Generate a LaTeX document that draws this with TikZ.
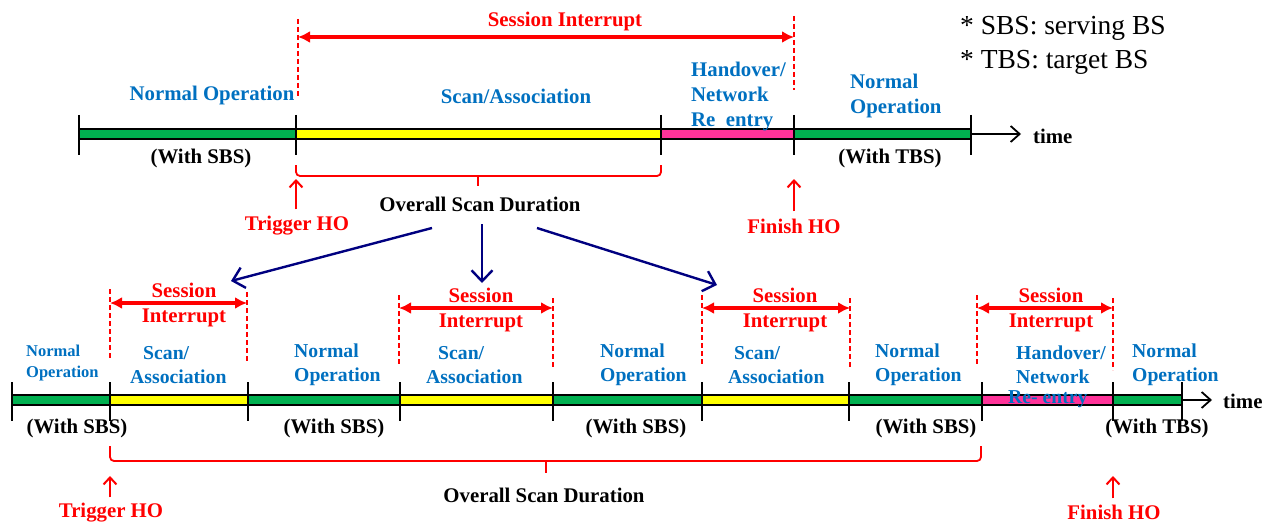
\documentclass[tikz,border=0pt]{standalone}
\usepackage{fontspec}
\setmainfont{Liberation Serif}
\usetikzlibrary{arrows.meta}
\definecolor{cblue}{RGB}{0,112,192}
\definecolor{cred}{RGB}{255,0,0}
\definecolor{cgreen}{RGB}{0,176,80}
\definecolor{cyellow}{RGB}{255,255,0}
\definecolor{cpink}{RGB}{255,51,153}
\definecolor{cnavy}{RGB}{0,0,128}
\newcommand\fTop{\bfseries\fontsize{20.8}{25}\selectfont}
\newcommand\fBot{\bfseries\fontsize{19.7}{24}\selectfont}
\newcommand\fSmall{\bfseries\fontsize{16.5}{21}\selectfont}
\newcommand\fLeg{\fontsize{27.5}{32}\selectfont}
\tikzset{
  barout/.style={line width=12pt, black},
  seg/.style={line width=7.5pt, #1},
  tickmark/.style={line width=1.8pt, black},
  timearrow/.style={line width=1.8pt, black, -{Straight Barb[length=9pt,width=16pt,line width=1.8pt]}},
  phase/.style={text=cblue, inner sep=0pt},
  lbl/.style={inner sep=0pt, font=\fTop},
  redlbl/.style={inner sep=0pt, font=\fTop, text=cred},
  dashv/.style={cred, line width=1.6pt, dash pattern=on 5pt off 3pt},
  sess/.style={cred, line width=3.2pt, {Latex[length=12pt,width=12pt]}-{Latex[length=12pt,width=12pt]}},
  bracepath/.style={cred, line width=1.8pt, rounded corners=4pt},
  trig/.style={cred, line width=2pt, -{Straight Barb[length=7pt,width=13pt,line width=2pt]}},
  fan/.style={cnavy, line width=2.4pt, -{Straight Barb[length=11pt,width=21pt,line width=2.4pt]}}
}
\begin{document}
\begin{tikzpicture}[x=1pt,y=-1pt]
\useasboundingbox (0,0) rectangle (1277,524);
% ---------------- legend ----------------
\node[inner sep=0pt, anchor=west, font=\fLeg] (leg1) at (960,28) {* SBS: serving BS};
\node[inner sep=0pt, anchor=west, font=\fLeg] (leg2) at (960,62) {* TBS: target BS};
% ---------------- top timeline ----------------
\coordinate (t0) at (79,134);
\coordinate (t1) at (296,134);
\coordinate (t2) at (661,134);
\coordinate (t3) at (794,134);
\coordinate (t4) at (971,134);
\coordinate (tend) at (1021,134);
\draw[barout] (t0) -- (t4);
\draw[seg=cgreen] (t0) -- (t1);
\draw[seg=cyellow] (t1) -- (t2);
\draw[seg=cpink] (t2) -- (t3);
\draw[seg=cgreen] (t3) -- (t4);
\foreach \c in {t0,t1,t2,t3,t4} \draw[tickmark] ([yshift=19pt]\c) -- ([yshift=-21pt]\c);
\draw[timearrow] (t4) -- (tend);
\node[lbl, anchor=west] (time1) at (1033,136) {time};
% labels
\node[phase, font=\fTop] (tn1) at (212,95) {Normal Operation};
\node[phase, font=\fTop] (ts1) at (516,96) {Scan/Association};
\node[phase, font=\fTop, align=left, anchor=west] (th1) at (691,97) {Handover/\\Network\\Re\ \ entry};
\node[phase, font=\fTop, align=left, anchor=west] (tn2) at (850,96) {Normal\\Operation};
\node[lbl] (tw1) at (201,158) {(With SBS)};
\node[lbl] (tw2) at (890,158) {(With TBS)};
% session interrupt
\coordinate (dA1) at (298,19);
\coordinate (dA2) at (298,96);
\coordinate (dB1) at (794,16);
\coordinate (dB2) at (794,90);
\draw[dashv] (dA1) -- (dA2);
\draw[dashv] (dB1) -- (dB2);
\coordinate (sA) at (298,37);
\coordinate (sB) at (794,37);
\draw[sess] (sA) -- (sB);
\node[redlbl] (tsi) at (565,22) {Session Interrupt};
% brace
\coordinate (br1) at (296,165);
\coordinate (br2) at (661,165);
\coordinate (brc) at (478,176);
\coordinate (brd) at (478,186);
\draw[bracepath] (br1) |- (brc) -| (br2);
\draw[bracepath] (brc) -- (brd);
\node[lbl] (tosd) at (480,204) {Overall Scan Duration};
% trigger / finish
\node[redlbl] (ttr) at (297,226) {Trigger HO};
\node[redlbl] (tfi) at (794,226) {Finish HO};
\draw[trig] ([yshift=7pt]ttr.north -| t1) -- ([yshift=-45pt]t1);
\draw[trig] ([yshift=7pt]tfi.north -| t3) -- ([yshift=-45pt]t3);
% ---------------- fan arrows ----------------
\coordinate (f1s) at (432,228);
\coordinate (f1e) at (231,281);
\coordinate (f2s) at (482,224);
\coordinate (f2e) at (482,283);
\coordinate (f3s) at (537,228);
\coordinate (f3e) at (717,285);
\draw[fan] (f1s) -- (f1e);
\draw[fan] (f2s) -- (f2e);
\draw[fan] (f3s) -- (f3e);
% ---------------- bottom timeline ----------------
\coordinate (b0) at (12,400);
\coordinate (b1) at (110,400);
\coordinate (b2) at (248,400);
\coordinate (b3) at (400,400);
\coordinate (b4) at (553,400);
\coordinate (b5) at (702,400);
\coordinate (b6) at (849,400);
\coordinate (b7) at (982,400);
\coordinate (b8) at (1113,400);
\coordinate (b9) at (1182,400);
\coordinate (bend) at (1212,400);
\draw[barout] (b0) -- (b9);
\draw[seg=cgreen] (b0) -- (b1);
\draw[seg=cyellow] (b1) -- (b2);
\draw[seg=cgreen] (b2) -- (b3);
\draw[seg=cyellow] (b3) -- (b4);
\draw[seg=cgreen] (b4) -- (b5);
\draw[seg=cyellow] (b5) -- (b6);
\draw[seg=cgreen] (b6) -- (b7);
\draw[seg=cpink] (b7) -- (b8);
\draw[seg=cgreen] (b8) -- (b9);
\foreach \c in {b0,b1,b2,b3,b4,b5,b6,b7,b8,b9} \draw[tickmark] ([yshift=18pt]\c) -- ([yshift=-21pt]\c);
\draw[timearrow] (b9) -- (bend);
\node[lbl, anchor=west] (time2) at (1223,401) {time};
% phase labels
\node[phase, font=\fSmall, align=left, anchor=west] (bn1) at (26,363) {Normal\\Operation};
\node[phase, font=\fBot, align=left, anchor=west] (bs1) at (130,365) {\hspace{13pt}Scan/\\Association};
\node[phase, font=\fBot, align=left, anchor=west] (bn2) at (294,365) {Normal\\Operation};
\node[phase, font=\fBot, align=left, anchor=west] (bs2) at (426,365) {\hspace{12pt}Scan/\\Association};
\node[phase, font=\fBot, align=left, anchor=west] (bn3) at (600,365) {Normal\\Operation};
\node[phase, font=\fBot, align=left, anchor=west] (bs3) at (728,365) {\hspace{6pt}Scan/\\Association};
\node[phase, font=\fBot, align=left, anchor=west] (bn4) at (875,365) {Normal\\Operation};
\node[phase, font=\fBot, align=left, anchor=west] (bh1) at (1016,365) {Handover/\\Network};
\node[phase, font=\fBot, align=left, anchor=west] (bn5) at (1132,365) {Normal\\Operation};
\node[phase, font=\fBot, anchor=west] (bre) at (1008,399) {Re- entry};
% with labels
\node[lbl] (bw1) at (77,428) {(With SBS)};
\node[lbl] (bw2) at (334,428) {(With SBS)};
\node[lbl] (bw3) at (636,428) {(With SBS)};
\node[lbl] (bw4) at (926,428) {(With SBS)};
\node[lbl] (bw5) at (1157,428) {(With TBS)};
% session interrupts
\coordinate (e1a) at (110,289); \coordinate (e1b) at (110,360);
\coordinate (e2a) at (247,292); \coordinate (e2b) at (247,363);
\draw[dashv] (e1a) -- (e1b);
\draw[dashv] (e2a) -- (e2b);
\coordinate (s1a) at (110,303); \coordinate (s1b) at (247,303);
\draw[sess] (s1a) -- (s1b);
\node[redlbl, align=center] (bsi1) at (184,305) {Session\\Interrupt};
\coordinate (e3a) at (399,295); \coordinate (e3b) at (399,365);
\coordinate (e4a) at (553,298); \coordinate (e4b) at (553,368);
\draw[dashv] (e3a) -- (e3b);
\draw[dashv] (e4a) -- (e4b);
\coordinate (s2a) at (399,308); \coordinate (s2b) at (553,308);
\draw[sess] (s2a) -- (s2b);
\node[redlbl, align=center] (bsi2) at (481,310) {Session\\Interrupt};
\coordinate (e5a) at (702,295); \coordinate (e5b) at (702,365);
\coordinate (e6a) at (850,298); \coordinate (e6b) at (850,368);
\draw[dashv] (e5a) -- (e5b);
\draw[dashv] (e6a) -- (e6b);
\coordinate (s3a) at (702,308); \coordinate (s3b) at (850,308);
\draw[sess] (s3a) -- (s3b);
\node[redlbl, align=center] (bsi3) at (785,310) {Session\\Interrupt};
\coordinate (e7a) at (977,295); \coordinate (e7b) at (977,365);
\coordinate (e8a) at (1113,298); \coordinate (e8b) at (1113,370);
\draw[dashv] (e7a) -- (e7b);
\draw[dashv] (e8a) -- (e8b);
\coordinate (s4a) at (977,308); \coordinate (s4b) at (1113,308);
\draw[sess] (s4a) -- (s4b);
\node[redlbl, align=center] (bsi4) at (1051,310) {Session\\Interrupt};
% bottom brace
\coordinate (bb1) at (110,446);
\coordinate (bb2) at (981,446);
\coordinate (bbc) at (546,461);
\coordinate (bbd) at (546,473);
\draw[bracepath] (bb1) |- (bbc) -| (bb2);
\draw[bracepath] (bbc) -- (bbd);
\node[lbl] (bosd) at (544,495) {Overall Scan Duration};
% trigger / finish
\node[redlbl] (btr) at (111,513) {Trigger HO};
\node[redlbl] (bfi) at (1114,512) {Finish HO};
\draw[trig] ([yshift=6pt]btr.north -| b1) -- ([yshift=-76pt]b1);
\draw[trig] ([yshift=6pt]bfi.north -| b8) -- ([yshift=-76pt]b8);
\end{tikzpicture}
\end{document}
